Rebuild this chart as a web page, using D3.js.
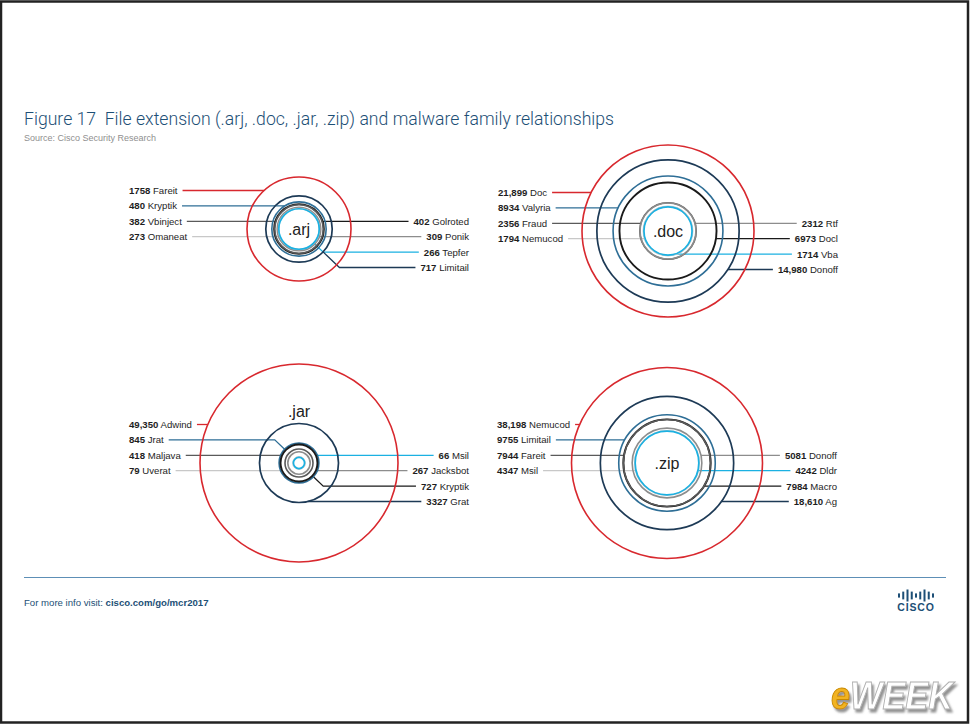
<!DOCTYPE html>
<html><head><meta charset="utf-8">
<script src="https://cdn.jsdelivr.net/npm/d3@7"></script>
<style>body{margin:0;background:#fff;}svg{display:block}</style>
</head><body>
<svg id="chart" width="970" height="725"></svg>
<script>
// ---------------- data ----------------
const extensions = [".arj", ".doc", ".jar", ".zip"];

const arjLeftFamilies  = ["Fareit", "Kryptik", "Vbinject", "Omaneat"];
const arjLeftValues    = [1758, 480, 382, 273];
const arjRightFamilies = ["Golroted", "Ponik", "Tepfer", "Limitail"];
const arjRightValues   = [402, 309, 266, 717];

const docLeftFamilies  = ["Doc", "Valyria", "Fraud", "Nemucod"];
const docLeftValues    = [21899, 8934, 2356, 1794];
const docRightFamilies = ["Rtf", "Docl", "Vba", "Donoff"];
const docRightValues   = [2312, 6973, 1714, 14980];

const jarLeftFamilies  = ["Adwind", "Jrat", "Maljava", "Uverat"];
const jarLeftValues    = [49350, 845, 418, 79];
const jarRightFamilies = ["Msil", "Jacksbot", "Kryptik", "Grat"];
const jarRightValues   = [66, 267, 727, 3327];

const zipLeftFamilies  = ["Nemucod", "Limitail", "Fareit", "Msil"];
const zipLeftValues    = [38198, 9755, 7944, 4347];
const zipRightFamilies = ["Donoff", "Dldr", "Macro", "Ag"];
const zipRightValues   = [5081, 4242, 7984, 18610];

const titleText  = "Figure 17\u00a0\u00a0File extension (.arj, .doc, .jar, .zip) and malware family relationships";
const sourceText = "Source: Cisco Security Research";

// ---------------- styles / layout ----------------
const rankColors = ["#d8282e", "#1d3a56", "#2e6e96", "#1a1a1a", "#5a5a5a", "#8d8d8d", "#c8c8c8", "#1bb1e2"];
const rankWidths = [1.6, 1.7, 1.6, 1.9, 1.6, 1.6, 1.6, 1.7];
const navy = "#1d4f76";

const panels = [
  {ext: extensions[0], cx: 299, cy: 229, lf: arjLeftFamilies, lv: arjLeftValues, rf: arjRightFamilies, rv: arjRightValues,
   rDomain: [0, 1758], rRange: [0, 52], hub: null, extAbove: false},
  {ext: extensions[1], cx: 668, cy: 231, lf: docLeftFamilies, lv: docLeftValues, rf: docRightFamilies, rv: docRightValues,
   rDomain: [0, 21899], rRange: [0, 86], hub: null, extAbove: false},
  {ext: extensions[2], cx: 299, cy: 463, lf: jarLeftFamilies, lv: jarLeftValues, rf: jarRightFamilies, rv: jarRightValues,
   rDomain: [0, 3327, 49350], rRange: [0, 39.5, 99], hub: "Kryptik", extAbove: true},
  {ext: extensions[3], cx: 667, cy: 463, lf: zipLeftFamilies, lv: zipLeftValues, rf: zipRightFamilies, rv: zipRightValues,
   rDomain: [0, 38198], rRange: [0, 95.5], hub: null, extAbove: false}
];

const fmt = v => v >= 10000 ? d3.format(",")(v) : String(v);
const svg = d3.select("#chart");
const FONT = "'Liberation Sans', Arial, Helvetica, sans-serif";

const defs = svg.append("defs");
const f = defs.append("filter").attr("id", "shadow").attr("x", "-10%").attr("y", "-10%").attr("width", "130%").attr("height", "140%");
f.append("feDropShadow").attr("dx", 2).attr("dy", 3).attr("stdDeviation", 1.2).attr("flood-color", "#777").attr("flood-opacity", 0.8);

svg.append("rect").attr("width", 970).attr("height", 725).attr("fill", "#fff");

// title
svg.append("text").attr("x", 24).attr("y", 125)
  .attr("font-family", "Roboto, 'Liberation Sans', sans-serif").attr("font-weight", 300)
  .attr("font-size", 18).attr("fill", navy)
  .attr("textLength", 590).attr("lengthAdjust", "spacingAndGlyphs")
  .text(titleText);
svg.append("text").attr("x", 24).attr("y", 141)
  .attr("font-family", FONT).attr("font-size", 9).attr("fill", "#8f8f8f")
  .text(sourceText);

const rowStep = 15.4;

panels.forEach(p => {
  const g = svg.append("g");
  const items = [];
  p.lf.forEach((f, i) => items.push({family: f, value: p.lv[i], side: -1, row: i}));
  p.rf.forEach((f, i) => items.push({family: f, value: p.rv[i], side: 1, row: i + 2}));
  const sorted = items.slice().sort((a, b) => b.value - a.value);
  sorted.forEach((d, i) => d.rank = i);
  const r = d3.scaleSqrt().domain(p.rDomain).range(p.rRange);
  const rowY = d3.scaleLinear().domain([0, 5]).range([p.cy - 2.5 * rowStep, p.cy + 2.5 * rowStep]);
  const hubItem = p.hub ? items.find(d => d.family === p.hub) : null;

  const lineG = g.append("g");
  const circG = g.append("g");
  const textG = g.append("g");

  circG.selectAll("circle").data(sorted).join("circle")
    .attr("cx", p.cx).attr("cy", p.cy)
    .attr("r", d => r(d.value))
    .attr("fill", "none")
    .attr("stroke", d => rankColors[d.rank])
    .attr("stroke-width", d => rankWidths[d.rank]);

  items.forEach(d => {
    const ly = rowY(d.row);
    const lx = p.cx + d.side * 170;
    const t = textG.append("text")
      .attr("x", lx).attr("y", ly + 3.4)
      .attr("text-anchor", d.side < 0 ? "start" : "end")
      .attr("font-family", FONT).attr("font-size", 9.6).attr("fill", "#1e1e1e");
    t.append("tspan").attr("font-weight", "bold").text(fmt(d.value));
    t.append("tspan").text(" " + d.family);
    const w = t.node().getComputedTextLength();
    const startX = lx - d.side * (w + 5);

    const rr = r(d.value);
    const dy = ly - p.cy;
    let pts = [[startX, ly]];
    const rHub = hubItem ? r(hubItem.value) : 0;
    if (hubItem && rr < rHub && d !== hubItem) {
      pts.push([p.cx + d.side * Math.sqrt(Math.max(rHub * rHub - dy * dy, 0)), ly]);
    } else if (Math.abs(dy) < rr) {
      pts.push([p.cx + d.side * Math.sqrt(rr * rr - dy * dy), ly]);
    } else {
      const ex = p.cx + d.side * Math.abs(dy) * 1.05;
      const a = Math.atan2(dy, ex - p.cx);
      pts.push([ex, ly]);
      pts.push([p.cx + rr * Math.cos(a), p.cy + rr * Math.sin(a)]);
    }
    lineG.append("path")
      .attr("d", d3.line()(pts))
      .attr("fill", "none")
      .attr("stroke", rankColors[d.rank])
      .attr("stroke-width", 1.3);
  });

  textG.append("text")
    .attr("x", p.cx).attr("y", p.extAbove ? p.cy - 46 : p.cy + 5.5)
    .attr("text-anchor", "middle")
    .attr("font-family", FONT).attr("font-size", 16).attr("fill", "#222")
    .text(p.ext);
});

// footer
svg.append("line").attr("x1", 24).attr("x2", 946).attr("y1", 577.5).attr("y2", 577.5)
  .attr("stroke", "#5d8fb6").attr("stroke-width", 1);
const ft = svg.append("text").attr("x", 24).attr("y", 606)
  .attr("font-family", FONT).attr("font-size", 9.6).attr("fill", navy);
ft.append("tspan").text("For more info visit: ");
ft.append("tspan").attr("font-weight", "bold").text("cisco.com/go/mcr2017");

// cisco logo
const barH = [0.35, 0.65, 1, 0.65, 0.35, 0.65, 1, 0.65, 0.35];
const bx = d3.scaleLinear().domain([0, 8]).range([899, 933]);
svg.append("g").selectAll("rect").data(barH).join("rect")
  .attr("x", (d, i) => bx(i) - 1).attr("width", 2)
  .attr("y", d => 595.5 - d * 6).attr("height", d => d * 12)
  .attr("fill", navy);
svg.append("text").attr("x", 916).attr("y", 611).attr("text-anchor", "middle")
  .attr("font-family", FONT).attr("font-weight", "bold").attr("font-size", 10.5)
  .attr("letter-spacing", 0.8).attr("fill", navy).text("CISCO");

// eWEEK mark (single text, drop shadow filter)
const ew = svg.append("text").attr("x", 831).attr("y", 709)
  .attr("font-family", FONT).attr("font-weight", "bold").attr("font-style", "italic")
  .attr("font-size", 38).attr("filter", "url(#shadow)")
  .attr("textLength", 122).attr("lengthAdjust", "spacingAndGlyphs");
ew.append("tspan").attr("fill", "#f2b320").attr("stroke", "#c98a00").attr("stroke-width", 1).text("e");
ew.append("tspan").attr("fill", "#fff").attr("stroke", "#b0b0b0").attr("stroke-width", 1).text("WEEK");

// frame
svg.append("rect").attr("x", 1).attr("y", 1.5).attr("width", 967).attr("height", 721)
  .attr("fill", "none").attr("stroke", "#222").attr("stroke-width", 2.5);
</script>
</body></html>
